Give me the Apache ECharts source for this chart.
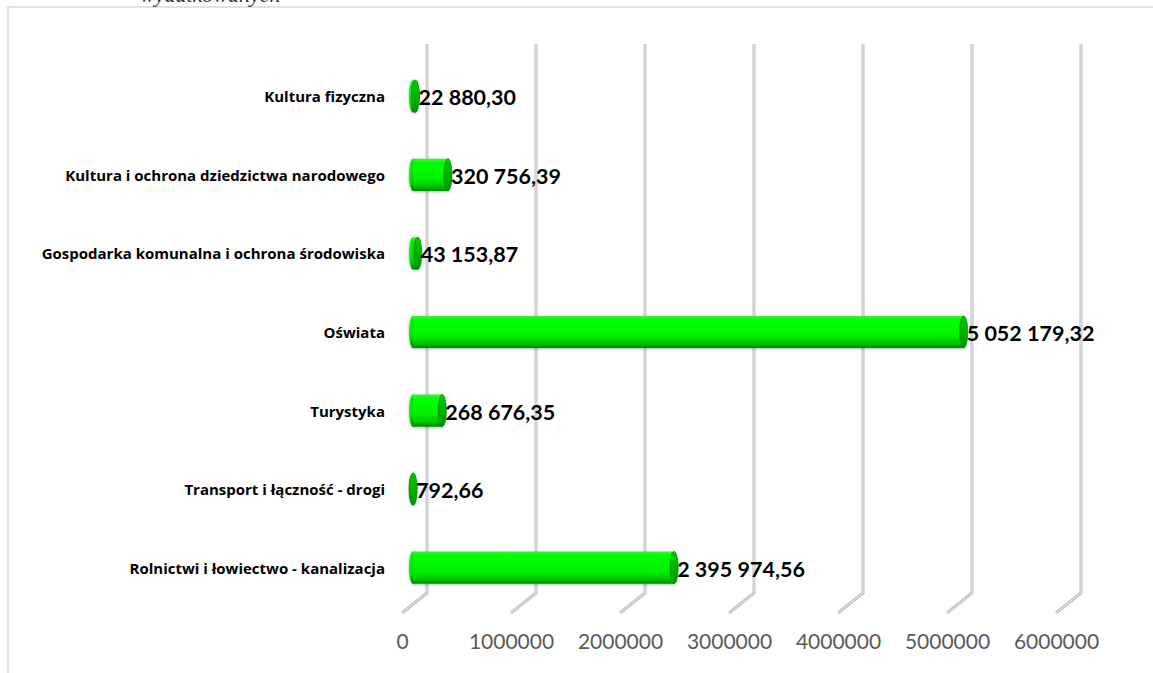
<!DOCTYPE html>
<html>
<head>
<meta charset="utf-8">
<script src="https://cdn.jsdelivr.net/npm/echarts@6/dist/echarts.min.js"></script>
<style>
  html, body { margin: 0; padding: 0; background: #fff; }
  #chart { width: 1153px; height: 673px; }
</style>
</head>
<body>
<div id="chart"></div>
<script>
// kategorie wydatków (od góry)
var categories = [
  'Kultura fizyczna',
  'Kultura i ochrona dziedzictwa narodowego',
  'Gospodarka komunalna i ochrona środowiska',
  'Oświata',
  'Turystyka',
  'Transport i łączność - drogi',
  'Rolnictwi i łowiectwo - kanalizacja'
]
var values = [22880.30, 320756.39, 43153.87, 5052179.32, 268676.35, 792.66, 2395974.56]
var tickValues = [0, 1000000, 2000000, 3000000, 4000000, 5000000, 6000000]

// 5052179.32 -> "5 052 179,32"
function fmt (v) {
  var parts = v.toFixed(2).split('.')
  var intPart = parts[0].replace(/\B(?=(\d{3})+(?!\d))/g, ' ')
  return intPart + ',' + parts[1]
}

var chart = echarts.init(document.getElementById('chart'), null, { renderer: 'svg' })

var RX = 4

function renderGrid (params, api) {
  var cs = params.coordSys
  var x = api.coord([api.value(0), 0])[0]
  var top = cs.y - 13
  var bot = cs.y + cs.height - 14
  var pts = [[x + 14, top], [x + 14, bot], [x - 11, bot + 20]]
  return {
    type: 'group',
    children: [
      { type: 'polyline', shape: { points: pts }, style: { stroke: '#bdbdbd', lineWidth: 3, fill: null } },
      { type: 'polyline', shape: { points: pts }, style: { stroke: '#ebebeb', lineWidth: 1, fill: null } }
    ]
  }
}

function renderBar (params, api) {
  var idx = api.value(1)
  var p0 = api.coord([0, idx])
  var p1 = api.coord([api.value(0), idx])
  var h = api.size([0, 1])[1] * 0.41
  var y = p0[1] - h / 2
  var body = new echarts.graphic.LinearGradient(0, 0, 0, 1, [
    { offset: 0, color: '#3df03d' },
    { offset: 0.12, color: '#00ff00' },
    { offset: 0.6, color: '#00f200' },
    { offset: 0.85, color: '#00c400' },
    { offset: 1, color: '#008c00' }
  ])
  var cap = new echarts.graphic.LinearGradient(0, 0, 0, 1, [
    { offset: 0, color: '#00cc00' },
    { offset: 1, color: '#009400' }
  ])
  return {
    type: 'group',
    children: [
      {
        type: 'ellipse',
        shape: { cx: p0[0], cy: p0[1], rx: RX, ry: h / 2 },
        style: { fill: body, shadowBlur: 3, shadowColor: 'rgba(0,0,0,0.3)' }
      },
      {
        type: 'rect',
        shape: { x: p0[0], y: y, width: Math.max(p1[0] - p0[0], 0), height: h },
        style: { fill: body, shadowBlur: 3, shadowColor: 'rgba(0,0,0,0.3)', shadowOffsetY: 1 }
      },
      {
        type: 'ellipse',
        shape: { cx: p1[0], cy: p1[1], rx: RX, ry: h / 2 },
        style: { fill: cap, stroke: '#009000', lineWidth: 0.8 }
      },
      {
        type: 'text',
        x: p1[0] + RX - 1,
        y: p1[1] + 1,
        style: {
          text: fmt(api.value(0)),
          fill: '#000',
          font: 'bold 21.5px Lato',
          verticalAlign: 'middle',
          align: 'left'
        }
      }
    ]
  }
}

chart.setOption({
  animation: false,
  backgroundColor: '#fff',
  graphic: [
    {
      type: 'rect',
      shape: { x: 8, y: 7, width: 1170, height: 700 },
      style: { fill: null, stroke: '#d9d9d9', lineWidth: 1.5 },
      silent: true
    },
    {
      type: 'text',
      left: 140,
      top: -17,
      style: { text: 'wydatkowanych', font: 'italic 22px "Liberation Serif"', fill: '#333' }
    }
  ],
  grid: { left: 413, right: 86, top: 57, bottom: 66 },
  xAxis: {
    type: 'value',
    min: 0,
    max: 6000000,
    interval: 1000000,
    axisLine: { show: false },
    axisTick: { show: false },
    splitLine: { show: false },
    axisLabel: {
      color: '#595959',
      fontFamily: 'Lato',
      fontSize: 21,
      margin: 23,
      padding: [0, 21, 0, 0],
      formatter: function (v) { return String(v) }
    }
  },
  yAxis: {
    type: 'category',
    inverse: true,
    data: categories,
    axisLine: { show: false },
    axisTick: { show: false },
    axisLabel: {
      color: '#000',
      fontFamily: 'Open Sans',
      fontWeight: 'bold',
      fontSize: 15,
      margin: 28
    }
  },
  series: [
    {
      type: 'custom',
      name: 'siatka',
      clip: false,
      silent: true,
      renderItem: renderGrid,
      data: tickValues.map(function (v) { return [v, 0] }),
      z: 1
    },
    {
      type: 'custom',
      name: 'wydatki',
      clip: false,
      renderItem: renderBar,
      data: values.map(function (v, i) { return [v, i] }),
      z: 2
    }
  ]
})
</script>
</body>
</html>
